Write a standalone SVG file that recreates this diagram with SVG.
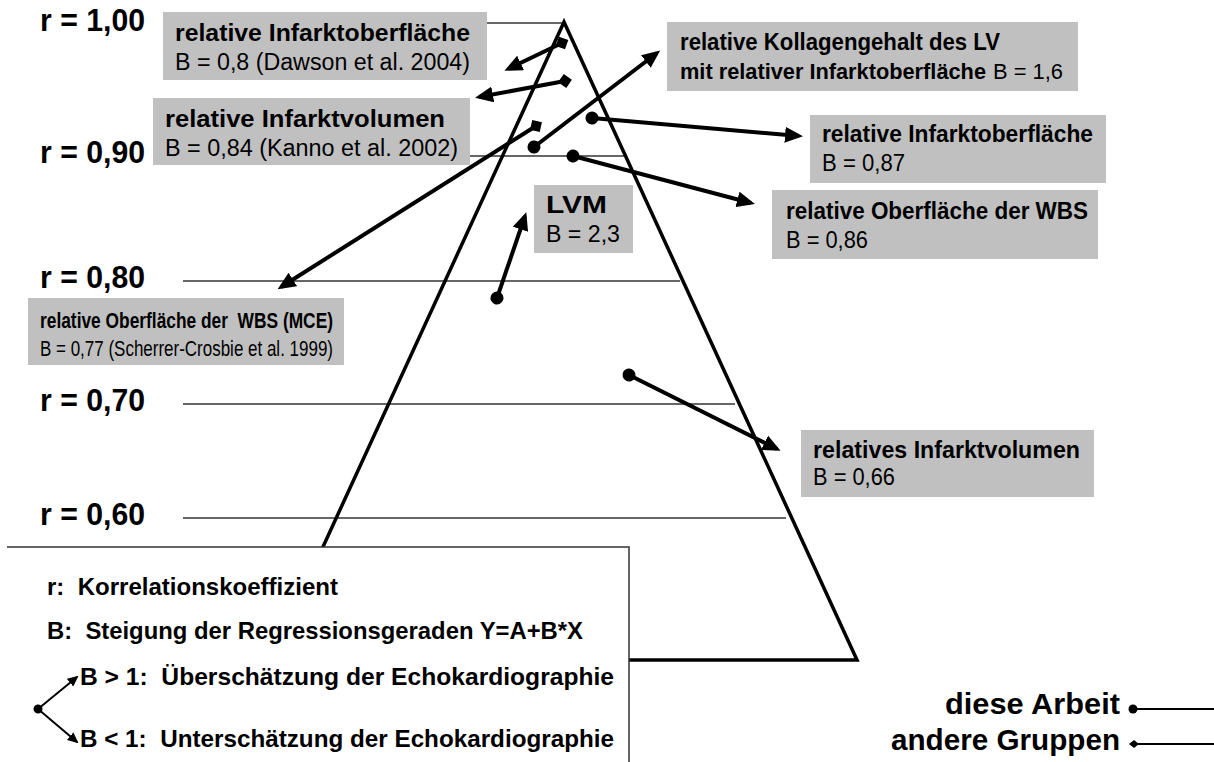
<svg xmlns="http://www.w3.org/2000/svg" width="1214" height="762" viewBox="0 0 1214 762" xml:space="preserve">
<style>
.bg{fill:#ffffff}
.box{fill:#c0c0c0}
.hl{stroke:#333;stroke-width:1.5;fill:none}
.tri{stroke:#000;stroke-width:3.5;fill:none;stroke-linejoin:miter}
.conn{stroke:#000;stroke-width:4;fill:none}
.thin{stroke:#000;stroke-width:2;fill:none}
text{white-space:pre}
.rl{font-family:"Liberation Sans",Arial,sans-serif;font-weight:bold;font-size:31px;fill:#000}
.h{font-family:"Liberation Sans",Arial,sans-serif;font-weight:bold;font-size:23px;fill:#000}
.s{font-family:"Liberation Sans",Arial,sans-serif;font-size:23px;fill:#000}
.lg{font-family:"Liberation Sans",Arial,sans-serif;font-weight:bold;font-size:24px;fill:#000}
.big{font-family:"Liberation Sans",Arial,sans-serif;font-weight:bold;font-size:30px;fill:#000}
</style>
<defs>
<marker id="ah" markerUnits="userSpaceOnUse" markerWidth="19" markerHeight="16" refX="14" refY="8" orient="auto"><path d="M0,0 L18,8 L0,16 z" fill="#000"/></marker>
<marker id="dot" markerUnits="userSpaceOnUse" markerWidth="14" markerHeight="14" refX="7" refY="7" orient="auto"><circle cx="7" cy="7" r="6.5" fill="#000"/></marker>
<marker id="dia" markerUnits="userSpaceOnUse" markerWidth="14" markerHeight="14" refX="7" refY="7" orient="auto"><path d="M0,7 L7,0 L14,7 L7,14 z" fill="#000"/></marker>
<marker id="ahs" markerUnits="userSpaceOnUse" markerWidth="11" markerHeight="10" refX="9" refY="5" orient="auto"><path d="M0,0 L11,5 L0,10 z" fill="#000"/></marker>
<marker id="dots" markerUnits="userSpaceOnUse" markerWidth="10" markerHeight="10" refX="5" refY="5" orient="auto"><circle cx="5" cy="5" r="4.5" fill="#000"/></marker>
<marker id="dias" markerUnits="userSpaceOnUse" markerWidth="10" markerHeight="10" refX="5" refY="5" orient="auto"><path d="M0,5 L5,1 L10,5 L5,9 z" fill="#000"/></marker>
</defs>
<rect class="bg" x="0" y="0" width="1214" height="762"/>

<g id="scale">
<text class="rl" x="40" y="31" textLength="105" lengthAdjust="spacingAndGlyphs">r = 1,00</text>
<text class="rl" x="40" y="163" textLength="105" lengthAdjust="spacingAndGlyphs">r = 0,90</text>
<text class="rl" x="40" y="288" textLength="105" lengthAdjust="spacingAndGlyphs">r = 0,80</text>
<text class="rl" x="40" y="411" textLength="105" lengthAdjust="spacingAndGlyphs">r = 0,70</text>
<text class="rl" x="40" y="525" textLength="105" lengthAdjust="spacingAndGlyphs">r = 0,60</text>
<line class="hl" x1="487" y1="23" x2="564" y2="23"/>
<line class="hl" x1="470" y1="156" x2="625" y2="156"/>
<line class="hl" x1="183" y1="281" x2="680" y2="281"/>
<line class="hl" x1="183" y1="404" x2="735" y2="404"/>
<line class="hl" x1="183" y1="518" x2="786" y2="518"/>
</g>

<g id="pyramid">
<polygon class="tri" points="564,22 857,660 271,660"/>
</g>

<g id="legend">
<rect class="bg" x="7" y="547" width="622" height="220"/>
<polyline class="hl" points="7,547 629,547 629,762"/>
<text class="lg" x="47" y="595" textLength="291" lengthAdjust="spacingAndGlyphs">r:  Korrelationskoeffizient</text>
<text class="lg" x="47" y="639" textLength="536" lengthAdjust="spacingAndGlyphs">B:  Steigung der Regressionsgeraden Y=A+B*X</text>
<text class="lg" x="80" y="685" textLength="534" lengthAdjust="spacingAndGlyphs">B &gt; 1:  Überschätzung der Echokardiographie</text>
<text class="lg" x="80" y="747" textLength="534" lengthAdjust="spacingAndGlyphs">B &lt; 1:  Unterschätzung der Echokardiographie</text>
<line class="thin" x1="38" y1="709" x2="77" y2="677" marker-start="url(#dots)" marker-end="url(#ahs)"/>
<line class="thin" x1="38" y1="709" x2="77" y2="742" marker-end="url(#ahs)"/>
</g>

<g id="key">
<text class="big" x="945" y="714" textLength="175" lengthAdjust="spacingAndGlyphs">diese Arbeit</text>
<text class="big" x="891" y="750" textLength="229" lengthAdjust="spacingAndGlyphs">andere Gruppen</text>
<line class="thin" x1="1133" y1="709" x2="1214" y2="709" marker-start="url(#dots)"/>
<line class="thin" x1="1134" y1="744" x2="1214" y2="744" marker-start="url(#dias)"/>
</g>

<g id="n1">
<rect class="box" x="163" y="12" width="324" height="68"/>
<text class="h" x="175" y="41" textLength="295" lengthAdjust="spacingAndGlyphs">relative Infarktoberfläche</text>
<text class="s" x="175" y="70" textLength="295" lengthAdjust="spacingAndGlyphs">B = 0,8 (Dawson et al. 2004)</text>
</g>
<g id="n2">
<rect class="box" x="153" y="98" width="317" height="67"/>
<text class="h" x="165" y="127" textLength="280" lengthAdjust="spacingAndGlyphs">relative Infarktvolumen</text>
<text class="s" x="165" y="156" textLength="293" lengthAdjust="spacingAndGlyphs">B = 0,84 (Kanno et al. 2002)</text>
</g>
<g id="n3">
<rect class="box" x="667" y="22" width="411" height="69"/>
<text class="h" x="680" y="50" textLength="320" lengthAdjust="spacingAndGlyphs">relative Kollagengehalt des LV</text>
<text class="h" x="680" y="79" style="font-size:22px" textLength="306" lengthAdjust="spacingAndGlyphs">mit relativer Infarktoberfläche</text>
<text class="s" x="993" y="79" style="font-size:22px" textLength="70" lengthAdjust="spacingAndGlyphs">B = 1,6</text>
</g>
<g id="n4">
<rect class="box" x="810" y="115" width="296" height="68"/>
<text class="h" x="822" y="142" textLength="271" lengthAdjust="spacingAndGlyphs">relative Infarktoberfläche</text>
<text class="s" x="822" y="171" textLength="83" lengthAdjust="spacingAndGlyphs">B = 0,87</text>
</g>
<g id="n5">
<rect class="box" x="772" y="190" width="326" height="69"/>
<text class="h" x="786" y="219" textLength="302" lengthAdjust="spacingAndGlyphs">relative Oberfläche der WBS</text>
<text class="s" x="786" y="248" textLength="82" lengthAdjust="spacingAndGlyphs">B = 0,86</text>
</g>
<g id="n6">
<rect class="box" x="534" y="185" width="99" height="68"/>
<text class="h" x="546" y="213" textLength="61" lengthAdjust="spacingAndGlyphs">LVM</text>
<text class="s" x="546" y="242" textLength="74" lengthAdjust="spacingAndGlyphs">B = 2,3</text>
</g>
<g id="n7">
<rect class="box" x="28" y="298" width="316" height="67"/>
<text class="h" x="40" y="328" style="font-size:22px" textLength="293" lengthAdjust="spacingAndGlyphs">relative Oberfläche der  WBS (MCE)</text>
<text class="s" x="40" y="356" style="font-size:22px" textLength="293" lengthAdjust="spacingAndGlyphs">B = 0,77 (Scherrer-Crosbie et al. 1999)</text>
</g>
<g id="n8">
<rect class="box" x="801" y="430" width="293" height="67"/>
<text class="h" x="813" y="458" textLength="267" lengthAdjust="spacingAndGlyphs">relatives Infarktvolumen</text>
<text class="s" x="813" y="485" textLength="82" lengthAdjust="spacingAndGlyphs">B = 0,66</text>
</g>

<g id="connectors">
<line class="conn" x1="562" y1="43" x2="508" y2="69" marker-start="url(#dia)" marker-end="url(#ah)"/>
<line class="conn" x1="565" y1="81" x2="479" y2="97" marker-start="url(#dia)" marker-end="url(#ah)"/>
<line class="conn" x1="536" y1="126" x2="281" y2="287" marker-start="url(#dia)" marker-end="url(#ah)"/>
<line class="conn" x1="534" y1="147" x2="657" y2="53" marker-start="url(#dot)" marker-end="url(#ah)"/>
<line class="conn" x1="592" y1="118" x2="799" y2="136" marker-start="url(#dot)" marker-end="url(#ah)"/>
<line class="conn" x1="573" y1="156" x2="751" y2="203" marker-start="url(#dot)" marker-end="url(#ah)"/>
<line class="conn" x1="497" y1="298" x2="525" y2="216" marker-start="url(#dot)" marker-end="url(#ah)"/>
<line class="conn" x1="629" y1="375" x2="777" y2="449" marker-start="url(#dot)" marker-end="url(#ah)"/>
</g>
</svg>
